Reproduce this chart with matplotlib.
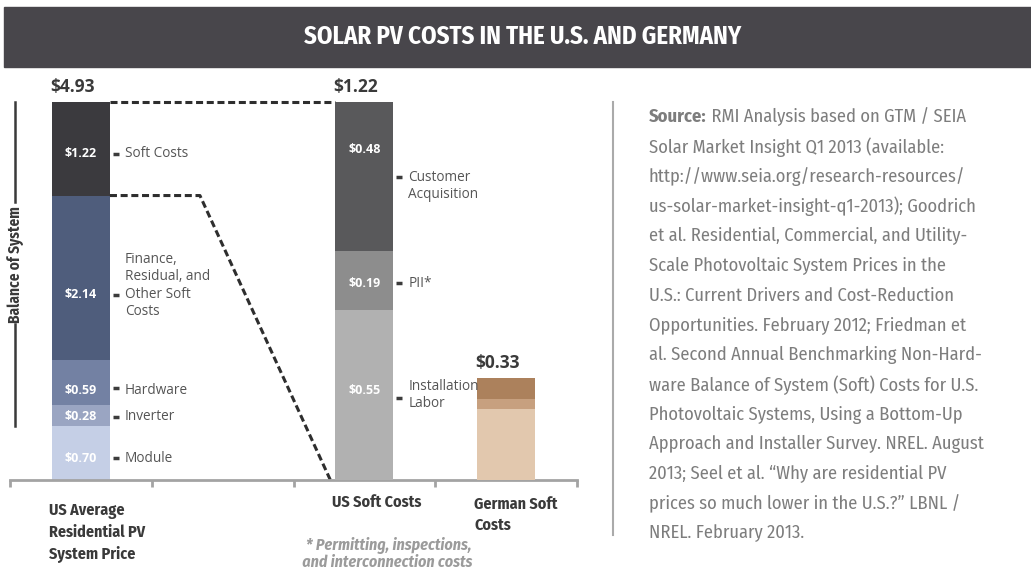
import matplotlib
matplotlib.use('Agg')
import matplotlib.pyplot as plt
import numpy as np
from matplotlib import font_manager as fm
from matplotlib.patches import Rectangle
from matplotlib.lines import Line2D
from matplotlib.text import Annotation

# data
categories = ['US Average\nResidential PV\nSystem Price', '', 'US Soft Costs', 'German Soft\nCosts']
us_parts = ['Module', 'Inverter', 'Hardware', 'Finance,\nResidual, and\nOther Soft\nCosts', 'Soft Costs']
us_values = [0.70, 0.28, 0.59, 2.14, 1.22]
soft_parts = ['Installation\nLabor', 'PII*', 'Customer\nAcquisition']
soft_values = [0.55, 0.19, 0.48]
german_values = [0.23, 0.03, 0.07]

us_colors = ['#c5cfe6', '#9aa5c2', '#7381a3', '#4f5d7c', '#3b3a3e']
soft_colors = ['#b1b1b1', '#8d8d8d', '#59595b']
german_colors = ['#e2c8ae', '#c7a07f', '#ac815c']

source_lines = [
    'Solar Market Insight Q1 2013 (available:',
    'http://www.seia.org/research-resources/',
    'us-solar-market-insight-q1-2013); Goodrich',
    'et al. Residential, Commercial, and Utility-',
    'Scale Photovoltaic System Prices in the',
    'U.S.: Current Drivers and Cost-Reduction',
    'Opportunities. February 2012; Friedman et',
    'al. Second Annual Benchmarking Non-Hard-',
    'ware Balance of System (Soft) Costs for U.S.',
    'Photovoltaic Systems, Using a Bottom-Up',
    'Approach and Installer Survey. NREL. August',
    '2013; Seel et al. \u201cWhy are residential PV',
    'prices so much lower in the U.S.?\u201d LBNL /',
    'NREL. February 2013.',
]

# label nudges in pixels (positive = down): value label, dash, side text
us_nudge = [(5, 5, 5), (1, 1, 1), (8, 6, 8), (17, 17, 8), (5, 5, 5)]
soft_nudge = [(-4, 3, 0), (3, 3, 3), (-27, 1, 10)]
cat_nudge = [23, 0, 14, 16]

fams = {f.name for f in fm.fontManager.ttflist}
NARROW = dict(family='DejaVu Sans')
for cand in ['Fira Sans Condensed', 'PT Sans Narrow', 'Asap Condensed',
             'Archivo Narrow', 'Liberation Sans Narrow']:
    if cand in fams:
        NARROW = dict(family=cand)
        break
BODY = 'Open Sans' if 'Open Sans' in fams else 'DejaVu Sans'

W, H = 1031, 572
fig = plt.figure(figsize=(W / 100, H / 100), dpi=100)

def put(x, y, s, **kw):
    # x, y in image pixels (y from top)
    return fig.text(x / W, 1 - y / H, s, **kw)

def seg(x0, y0, x1, y1, **kw):
    fig.add_artist(Line2D([x0 / W, x1 / W], [1 - y0 / H, 1 - y1 / H],
                          transform=fig.transFigure, **kw))

def to_img(a, x, y):
    dx, dy = a.transData.transform((x, y))
    return dx, H - dy

# title bar
fig.patches.append(Rectangle((4 / W, 1 - 67 / H), 1 - 4 / W, 60 / H,
                             transform=fig.transFigure, color='#48464b'))
put(523, 37, 'SOLAR PV COSTS IN THE U.S. AND GERMANY', color='white',
    fontsize=17.8, fontweight='bold', ha='center', va='center', **NARROW)

ax = fig.add_axes([10 / W, 92 / H, 567 / W, 378 / H])
ax.set_xlim(-0.5, 3.5)
ax.set_ylim(0, sum(us_values))
ax2 = ax.twinx()
ax2.set_ylim(0, sum(soft_values))
for a in (ax, ax2):
    a.patch.set_visible(False)
    for s in a.spines.values():
        s.set_visible(False)
    a.set_yticks([])
ax.spines['bottom'].set_visible(True)
ax.spines['bottom'].set_color('#a3a3a3')
ax.spines['bottom'].set_linewidth(2)
ax.set_xticks(np.arange(-0.5, 3.6, 1.0))
ax.set_xticklabels([])
ax.tick_params(axis='x', length=5, width=2, color='#a3a3a3')

BW = 0.41

def stack(a, xpos, vals, cols):
    bots = np.concatenate([[0], np.cumsum(vals)[:-1]])
    a.bar([xpos] * len(vals), vals, bottom=bots, width=BW, color=cols, linewidth=0)
    return bots

us_bots = stack(ax, 0, us_values, us_colors)
soft_bots = stack(ax2, 2, soft_values, soft_colors)
stack(ax2, 3, german_values, german_colors)

def label_bar(a, xpos, vals, bots, names, nudges):
    right = to_img(a, xpos + BW / 2, 0)[0]
    mid = to_img(a, xpos, 0)[0]
    for v, b, name, (nv, nd, nt) in zip(vals, bots, names, nudges):
        cy = to_img(a, xpos, b + v / 2)[1]
        put(mid, cy + nv, '$%.2f' % v, color='white', fontsize=9,
            fontweight='bold', ha='center', va='center', family=BODY)
        seg(right + 3, cy + nd, right + 9, cy + nd, color='#3c3c3c', lw=2.5,
            solid_capstyle='butt')
        put(right + 15, cy + nt, name, color='#555555', fontsize=9.8,
            ha='left', va='center', family=BODY, linespacing=1.2)

label_bar(ax, 0, us_values, us_bots, us_parts, us_nudge)
label_bar(ax2, 2, soft_values, soft_bots, soft_parts, soft_nudge)

# totals above bars
for a, xpos, vals in [(ax, 0, us_values), (ax2, 2, soft_values), (ax2, 3, german_values)]:
    lx, ty = to_img(a, xpos - BW / 2, sum(vals))
    put(lx - 2, ty - 6, '$%.2f' % sum(vals), color='#3a3a3a', fontsize=12.5,
        fontweight='bold', ha='left', va='bottom', family=BODY)

# category labels
for i, c in enumerate(categories):
    if not c:
        continue
    lx, by = to_img(ax, i - BW / 2, 0)
    put(lx - 3, by + cat_nudge[i], c, color='#3a3a3a', fontsize=11.5,
        fontweight='bold', ha='left', va='top', linespacing=1.45, **NARROW)

put(472, 554, '* Permitting, inspections,\n and interconnection costs', color='#9b9b9b',
    fontsize=11.5, fontweight='bold', style='italic', ha='right', va='center',
    multialignment='right', linespacing=1.05, **NARROW)

# dashed zoom lines
dash = dict(color='#2e2e2e', lw=2.2, linestyle=(0, (2.3, 1.2)), clip_on=False)
top = sum(us_values)
ax.plot([BW / 2, 2 - BW / 2], [top, top], **dash)
ax.plot([BW / 2, 0.84, 1.76], [top - us_values[-1], top - us_values[-1], 0], **dash)

# balance of system bracket
_, y_top = to_img(ax, 0, sum(us_values))
_, y_bot = to_img(ax, 0, us_values[0])
ymid = (y_top + y_bot) / 2
seg(15, y_top, 15, ymid - 62, color='#3a3a3a', lw=1.8)
seg(15, ymid + 60, 15, y_bot, color='#3a3a3a', lw=1.8)
put(16, ymid, 'Balance of System', rotation=90, color='#3a3a3a', fontsize=11,
    fontweight='bold', ha='center', va='center', **NARROW)

# source block
seg(613, 102, 613, 535, color='#aaaaaa', lw=1.5)
y0, step = 117, 29.75
src_kw = dict(color='#7d7d7d', fontsize=13.3, va='center', ha='left', **NARROW)
t = put(649, y0, 'Source:', fontweight='bold', **src_kw)
fig.add_artist(Annotation(' RMI Analysis based on GTM / SEIA', xy=(1, 0), xycoords=t,
                          va='bottom', ha='left', color='#7d7d7d', fontsize=13.3, **NARROW))
for i, line in enumerate(source_lines):
    put(649, y0 + step * (i + 1), line, **src_kw)

fig.savefig('out.png', dpi=100)
